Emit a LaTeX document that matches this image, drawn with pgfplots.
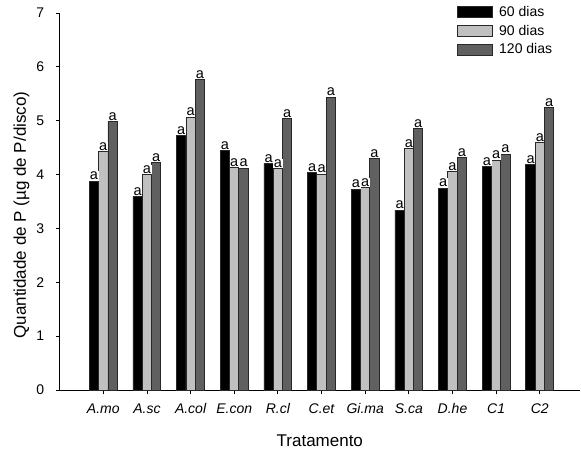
\documentclass[border=0pt]{standalone}
\usepackage{pgfplots}
\pgfplotsset{compat=1.18}
\usepackage{fontspec}
\setmainfont{Liberation Sans}
\definecolor{lgray}{RGB}{192,192,192}
\definecolor{dgray}{RGB}{96,96,96}
\definecolor{edge}{RGB}{40,40,40}
\begin{document}
\begin{tikzpicture}
\begin{axis}[
  name=ax,
  scale only axis,
  width=520.4bp, height=377bp,
  xmin=0, xmax=11.92, ymin=0, ymax=7,
  ybar=0pt, bar width=9.3bp,
  axis x line*=bottom, axis y line*=left,
  axis line style={-, line width=0.8bp, black},
  tick style={line width=0.8bp, black},
  tick align=outside, major tick length=4bp,
  xtick={1,...,11},
  xticklabels={A.mo,A.sc,A.col,E.con,R.cl,C.et,Gi.ma,S.ca,D.he,C1,C2},
  ytick={0,...,7},
  /pgf/number format/assume math mode=true,
  ticklabel style={font=\fontsize{14bp}{16bp}\selectfont},
  xticklabel style={font=\fontsize{14bp}{16bp}\selectfont\itshape, yshift=-6bp},
  yticklabel style={xshift=-8bp},
  xlabel={Tratamento},
  ylabel={Quantidade de P (µg de P/disco)},
  label style={font=\fontsize{17bp}{19bp}\selectfont},
  xlabel style={at={(axis description cs:0.5,-0.135)}, anchor=center},
  ylabel style={at={(axis description cs:-0.0732,0.464)}, anchor=center, rotate=0},
  nodes near coords={\fontsize{14.5bp}{16bp}\selectfont a},
  every node near coord/.append style={fill=white, inner sep=0.6bp, anchor=south},
  legend image code/.code={\draw[#1] (0bp,-5.3bp) rectangle (35bp,5.3bp);},
  legend style={draw=none, fill=none, at={(0.764,1.024)}, anchor=north west,
    font=\fontsize{14bp}{16bp}\selectfont, row sep=3.2bp, column sep=4bp, inner sep=0pt},
  legend cell align=left,
  clip=false,
]
\addplot[fill=black, draw=edge, line width=0.8bp] coordinates {
(1,3.88) (2,3.59) (3,4.72) (4,4.45) (5,4.21) (6,4.04) (7,3.73) (8,3.34) (9,3.75) (10,4.15) (11,4.19)};
\addplot[fill=lgray, draw=edge, line width=0.8bp] coordinates {
(1,4.43) (2,4.00) (3,5.07) (4,4.13) (5,4.11) (6,4.01) (7,3.76) (8,4.49) (9,4.05) (10,4.27) (11,4.60)};
\addplot[fill=dgray, draw=edge, line width=0.8bp] coordinates {
(1,4.99) (2,4.22) (3,5.76) (4,4.12) (5,5.04) (6,5.44) (7,4.30) (8,4.86) (9,4.32) (10,4.38) (11,5.25)};
\legend{60 dias,90 dias,120 dias}
\end{axis}
\pgfresetboundingbox
\path[use as bounding box] ([xshift=-59.6bp,yshift=-62bp]ax.south west) rectangle ([xshift=1bp,yshift=13bp]ax.north east);
\end{tikzpicture}
\end{document}
